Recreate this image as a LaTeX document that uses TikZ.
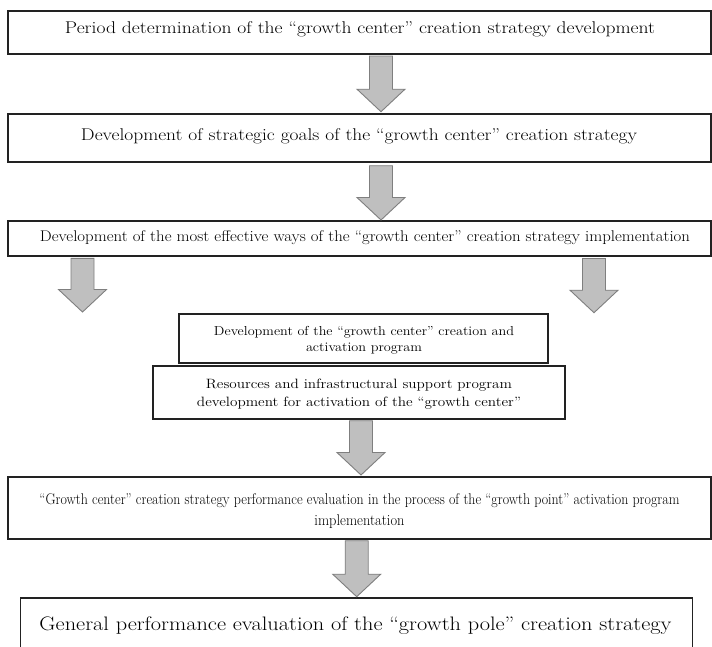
\documentclass[tikz,border=0pt]{standalone}
\usepackage{graphicx}
\usetikzlibrary{calc,shadows}
\definecolor{arrfill}{HTML}{BFBFBF}
\definecolor{arrdraw}{HTML}{7F7F7F}
\definecolor{boxline}{HTML}{222222}
\definecolor{txtc}{HTML}{000000}
\newcommand\fw[2]{\resizebox{#1}{\height}{#2}}
\newcommand\blockarrow[2]{%
  \draw[blockarr] let \p1=#1, \p2=#2 in
    (\x1-11.5pt,\y1) -- (\x1+11.5pt,\y1) -- (\x1+11.5pt,\y2+22.5pt) -- (\x1+24pt,\y2+22.5pt)
    -- (\x1,\y2) -- (\x1-24pt,\y2+22.5pt) -- (\x1-11.5pt,\y2+22.5pt) -- cycle;}
\begin{document}
\begin{tikzpicture}[x=1pt,y=-1pt,
  box/.style={draw=boxline, line width=1.1pt, fill=white, rectangle, inner sep=0pt, outer sep=0pt,
    drop shadow={shadow xshift=0.9pt, shadow yshift=-0.9pt, fill=black!35, opacity=1}},
  txt/.style={anchor=base, inner sep=0pt, text=txtc},
  blockarr/.style={fill=arrfill, draw=arrdraw, line width=0.9pt, line join=miter}]
\useasboundingbox (0,0) rectangle (712,646);
\fill[white] (0,0) rectangle (712,646);
\clip (0,0) rectangle (712,646);
% boxes
\node[box, minimum width=703pt, minimum height=43pt] (b1) at (359.5,32.5) {};
\node[box, minimum width=703pt, minimum height=48pt] (b2) at (359.5,138) {};
\node[box, minimum width=703pt, minimum height=35pt] (b3) at (359.5,238.5) {};
\node[box, minimum width=369pt, minimum height=49pt] (b4) at (363.5,338.5) {};
\node[box, minimum width=412pt, minimum height=53pt] (b5) at (359,392.5) {};
\node[box, minimum width=703pt, minimum height=62pt] (b6) at (359.5,508) {};
\node[box, minimum width=671.6pt, minimum height=52pt] (b7) at (356.5,624) {};
% texts
\node[txt, font=\fontsize{17}{20}\selectfont] (t1) at (360,33.3)
  {\fw{590pt}{Period determination of the “growth center” creation strategy development}};
\node[txt, font=\fontsize{17}{20}\selectfont] (t2) at (359,140)
  {\fw{556pt}{Development of strategic goals of the “growth center” creation strategy}};
\node[txt, font=\fontsize{15.5}{18}\selectfont] (t3) at (365,241.7)
  {\fw{650pt}{Development of the most effective ways of the “growth center” creation strategy implementation}};
\node[txt, font=\fontsize{13}{16}\selectfont] (t4) at (364,335)
  {\begin{tabular}[t]{@{}c@{}}\fw{300pt}{Development of the “growth center” creation and}\\ \fw{116pt}{activation program}\end{tabular}};
\node[txt, font=\fontsize{13.5}{18}\selectfont] (t5) at (359,388.3)
  {\begin{tabular}[t]{@{}c@{}}\fw{306pt}{Resources and infrastructural support program}\\ \fw{324pt}{development for activation of the “growth center”}\end{tabular}};
\node[txt, font=\fontsize{15.5}{20.7}\selectfont] (t6) at (359.5,504.3)
  {\begin{tabular}[t]{@{}c@{}}\fw{640pt}{“Growth center” creation strategy performance evaluation in the process of the “growth point” activation program}\\ \fw{90pt}{implementation}\end{tabular}};
\node[txt, font=\fontsize{19.5}{23}\selectfont] (t7) at (355.5,630)
  {\fw{632pt}{General performance evaluation of the “growth pole” creation strategy}};
% arrows
\coordinate (e3l) at ([xshift=-277pt,yshift=-56pt]b3.south);
\coordinate (e3r) at ([xshift=234.5pt,yshift=-56.7pt]b3.south);
\blockarrow{([xshift=21.5pt,yshift=-2pt]b1.south)}{([xshift=21.5pt,yshift=2.3pt]b2.north)}
\blockarrow{([xshift=21.5pt,yshift=-3.7pt]b2.south)}{([xshift=21.5pt,yshift=1pt]b3.north)}
\blockarrow{([xshift=-277pt,yshift=-2.3pt]b3.south)}{(e3l)}
\blockarrow{([xshift=234.5pt,yshift=-2.5pt]b3.south)}{(e3r)}
\blockarrow{([xshift=2pt,yshift=-1.7pt]b5.south)}{([xshift=2pt,yshift=2pt]b6.north)}
\blockarrow{([xshift=-2.8pt,yshift=-1.7pt]b6.south)}{([xshift=-2.8pt,yshift=1.3pt]b7.north)}
\end{tikzpicture}
\end{document}
